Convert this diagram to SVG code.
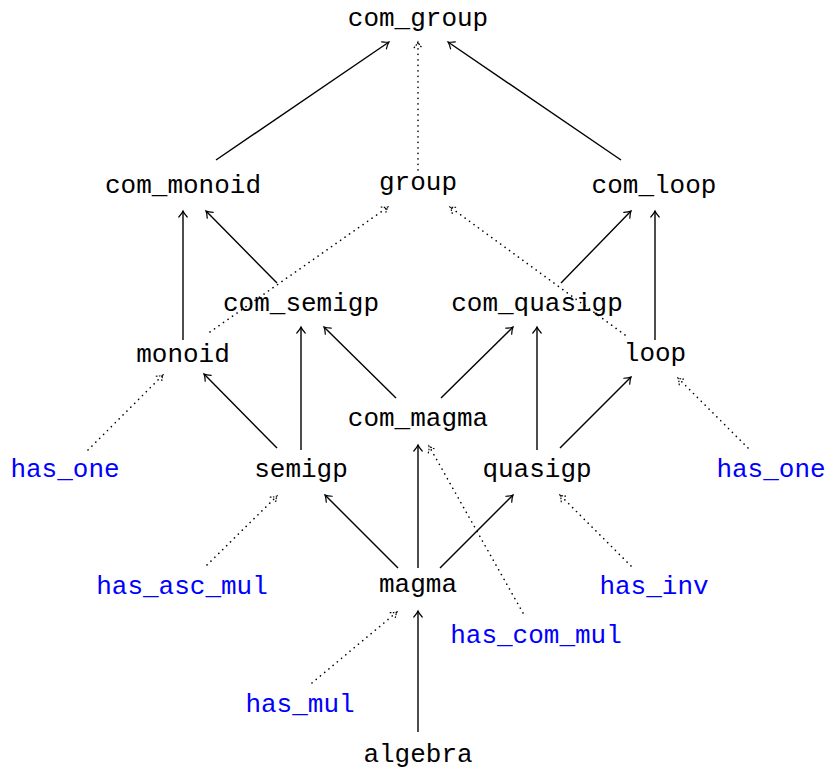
<svg xmlns="http://www.w3.org/2000/svg" width="837" height="779" viewBox="0 0 837 779">
<style>
text{font-family:"Liberation Mono","DejaVu Sans Mono",monospace;font-size:26px;text-anchor:middle;fill:#000}
text.b{fill:#0000ff}
.s{stroke:#000;stroke-width:1.4;fill:none;marker-end:url(#ah)}
.d{stroke:#000;stroke-width:1.6;fill:none;stroke-dasharray:0.1 5.4;stroke-linecap:round;marker-end:url(#ad)}
</style>
<defs>
<marker id="ah" markerUnits="userSpaceOnUse" markerWidth="14" markerHeight="14" viewBox="-10 -7 14 14" refX="0" refY="0" orient="auto" overflow="visible">
<path d="M-6,-4.2 Q-2.5,-1 0,0 Q-2.5,1 -6,4.2" fill="none" stroke="#000" stroke-width="1.2" stroke-linecap="round"/>
</marker>
<marker id="ad" markerUnits="userSpaceOnUse" markerWidth="14" markerHeight="14" viewBox="-10 -7 14 14" refX="0" refY="0" orient="auto" overflow="visible">
<path d="M-6,-4.2 Q-2.5,-1 0,0 Q-2.5,1 -6,4.2" fill="none" stroke="#000" stroke-width="1.2" stroke-dasharray="1.6 1.4"/>
</marker>
</defs>
<g id="connectors">
<line class="s" x1="216" y1="160" x2="389" y2="42"/>
<line class="d" x1="418" y1="170" x2="418" y2="42"/>
<line class="s" x1="621" y1="160" x2="448" y2="42"/>
<line class="s" x1="183" y1="340" x2="183" y2="211"/>
<line class="s" x1="277" y1="283" x2="206" y2="211"/>
<line class="d" x1="210" y1="332" x2="388" y2="207"/>
<line class="d" x1="625" y1="335" x2="450" y2="207"/>
<line class="s" x1="561" y1="283" x2="631" y2="211"/>
<line class="s" x1="655" y1="340" x2="655" y2="211"/>
<line class="s" x1="301" y1="450" x2="301" y2="327"/>
<line class="s" x1="396" y1="398" x2="324" y2="327"/>
<line class="s" x1="441" y1="398" x2="513" y2="327"/>
<line class="s" x1="537" y1="450" x2="537" y2="327"/>
<line class="s" x1="560" y1="448" x2="631" y2="377"/>
<line class="s" x1="277" y1="448" x2="204" y2="374"/>
<line class="d" x1="88" y1="450" x2="163" y2="375"/>
<line class="d" x1="748" y1="448" x2="678" y2="378"/>
<line class="d" x1="207" y1="565" x2="277" y2="496"/>
<line class="s" x1="398" y1="568" x2="325" y2="495"/>
<line class="s" x1="418" y1="568" x2="418" y2="445"/>
<line class="s" x1="440" y1="568" x2="513" y2="495"/>
<line class="d" x1="631" y1="566" x2="560" y2="495"/>
<line class="d" x1="523" y1="613" x2="429" y2="446"/>
<line class="d" x1="312" y1="683" x2="397" y2="612"/>
<line class="s" x1="418" y1="732" x2="418" y2="611"/>
</g>
<g id="com_group"><text x="418" y="26">com_group</text></g>
<g id="com_monoid"><text x="183" y="193">com_monoid</text></g>
<g id="group"><text x="418" y="190">group</text></g>
<g id="com_loop"><text x="654" y="193">com_loop</text></g>
<g id="com_semigp"><text x="301" y="311">com_semigp</text></g>
<g id="com_quasigp"><text x="537" y="311">com_quasigp</text></g>
<g id="monoid"><text x="183" y="362">monoid</text></g>
<g id="loop"><text x="655" y="361">loop</text></g>
<g id="com_magma"><text x="418" y="426">com_magma</text></g>
<g id="has_one_l"><text class="b" x="65" y="477">has_one</text></g>
<g id="semigp"><text x="301" y="477">semigp</text></g>
<g id="quasigp"><text x="537" y="477">quasigp</text></g>
<g id="has_one_r"><text class="b" x="771" y="477">has_one</text></g>
<g id="has_asc_mul"><text class="b" x="182" y="594">has_asc_mul</text></g>
<g id="magma"><text x="418" y="592">magma</text></g>
<g id="has_inv"><text class="b" x="654" y="594">has_inv</text></g>
<g id="has_com_mul"><text class="b" x="536" y="643">has_com_mul</text></g>
<g id="has_mul"><text class="b" x="300" y="712">has_mul</text></g>
<g id="algebra"><text x="418" y="762">algebra</text></g>
</svg>
